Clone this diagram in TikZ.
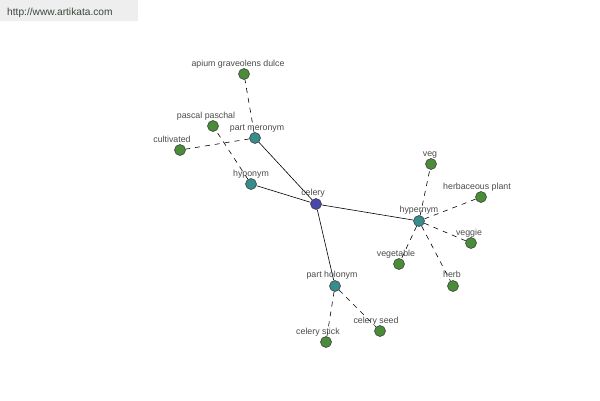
\documentclass[tikz,border=0pt]{standalone}
\usepackage{fontspec}
\setmainfont{Liberation Sans}
\definecolor{cblue}{RGB}{72,72,168}
\definecolor{cteal}{RGB}{56,140,140}
\definecolor{cgreen}{RGB}{74,140,58}
\definecolor{cband}{RGB}{238,238,238}
\definecolor{ctext}{RGB}{75,75,75}
\definecolor{curl}{RGB}{60,70,60}
\begin{document}
\begin{tikzpicture}[x=1pt,y=-1pt,
  every node/.style={inner sep=0pt},
  word/.style={circle,draw=black!80,line width=0.5pt,minimum size=11pt,inner sep=0pt},
  centre/.style={word,fill=cblue},
  rel/.style={word,fill=cteal},
  leaf/.style={word,fill=cgreen},
  lbl/.style={font=\fontsize{8.8}{9}\selectfont,text=ctext,anchor=base},
  solidline/.style={draw=black,line width=0.6pt},
  dashline/.style={draw=black,line width=0.6pt,dash pattern=on 5pt off 5pt}]
\useasboundingbox (0,0) rectangle (600,400);
\fill[white] (0,0) rectangle (600,400);
\fill[cband] (0,0) rectangle (138,21);
\node[anchor=base west,font=\fontsize{10.2}{11}\selectfont,text=curl] (url) at (7,15) {http://www.artikata.com};

% nodes
\node[centre] (celery) at (316,204) {};
\node[rel] (hypo) at (251,184) {};
\node[rel] (mero) at (255,138) {};
\node[rel] (hyper) at (419,221) {};
\node[rel] (holo) at (335,286) {};
\node[leaf] (apium) at (244,74) {};
\node[leaf] (pascal) at (213,126) {};
\node[leaf] (cult) at (180,150) {};
\node[leaf] (veg) at (431,164) {};
\node[leaf] (herbp) at (481,197) {};
\node[leaf] (veggie) at (471,243) {};
\node[leaf] (vegetable) at (399,264) {};
\node[leaf] (herb) at (453,286) {};
\node[leaf] (stick) at (326,342) {};
\node[leaf] (seed) at (380,331) {};

% edges
\draw[solidline] (celery) -- (hypo);
\draw[solidline] (celery) -- (mero);
\draw[solidline] (celery) -- (hyper);
\draw[solidline] (celery) -- (holo);
\draw[dashline] (hypo) -- (pascal);
\draw[dashline] (mero) -- (apium);
\draw[dashline] (mero) -- (cult);
\draw[dashline] (hyper) -- (veg);
\draw[dashline] (hyper) -- (herbp);
\draw[dashline] (hyper) -- (veggie);
\draw[dashline] (hyper) -- (vegetable);
\draw[dashline] (hyper) -- (herb);
\draw[dashline] (holo) -- (stick);
\draw[dashline] (holo) -- (seed);

% labels
\node[lbl] (lcelery) at (313,195) {celery};
\node[lbl] (lhypo) at (251,176) {hyponym};
\node[lbl] (lmero) at (257,130) {part meronym};
\node[lbl] (lhyper) at (419,212) {hypernym};
\node[lbl] (lholo) at (332,277) {part holonym};
\node[lbl] (lapium) at (238,66) {apium graveolens dulce};
\node[lbl] (lpascal) at (206,118) {pascal paschal};
\node[lbl] (lcult) at (172,142) {cultivated};
\node[lbl] (lveg) at (430,156) {veg};
\node[lbl] (lherbp) at (477,189) {herbaceous plant};
\node[lbl] (lveggie) at (469,235) {veggie};
\node[lbl] (lvegetable) at (396,256) {vegetable};
\node[lbl] (lherb) at (452,277) {herb};
\node[lbl] (lstick) at (318,334) {celery stick};
\node[lbl] (lseed) at (376,323) {celery seed};
\end{tikzpicture}
\end{document}
